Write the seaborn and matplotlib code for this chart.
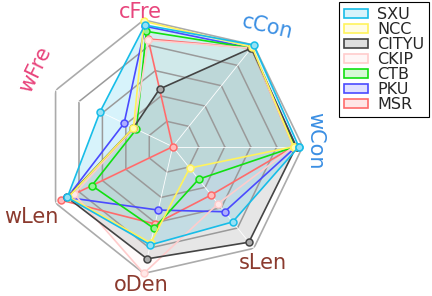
import numpy as np
import pandas as pd
import matplotlib
matplotlib.use("Agg")
import matplotlib.pyplot as plt
from matplotlib.patches import Patch
import seaborn as sns

# axes, counter-clockwise starting from the right
categories = ["wCon", "cCon", "cFre", "wFre", "wLen", "oDen", "sLen"]
label_colors = ["#3b8fe3", "#3b8fe3", "#e8457c", "#e8457c", "#8b3a2e", "#8b3a2e", "#8b3a2e"]

datasets = ["SXU", "NCC", "CITYU", "CKIP", "CTB", "PKU", "MSR"]
sxu = [0.97, 1.00, 0.96, 0.62, 0.90, 0.775, 0.74]
ncc = [0.93, 0.98, 0.99, 0.335, 0.89, 0.76, 0.21]
cityu = [0.95, 0.97, 0.455, 0.335, 0.90, 0.885, 0.94]
ckip = [0.93, 0.97, 0.84, 0.33, 0.84, 1.00, 0.56]
ctb = [0.94, 0.97, 0.91, 0.31, 0.69, 0.645, 0.32]
pku = [0.95, 0.97, 0.95, 0.415, 0.90, 0.50, 0.64]
msr = [0.93, 0.97, 0.85, 0.00, 0.95, 0.61, 0.475]
values = [sxu, ncc, cityu, ckip, ctb, pku, msr]

colors = ["#17bde8", "#fff35c", "#444444", "#ffcccc", "#11e011", "#4a4aff", "#ff6b6b"]
fill_alpha = [0.17, 0.05, 0.13, 0.08, 0.02, 0.02, 0.02]


def main():
    sns.set_style("white")
    plt.rcParams["font.family"] = ["DejaVu Sans"]

    fig = plt.figure(figsize=(4.32, 2.96), dpi=100)
    ax = fig.add_axes([0.0988, 0.0652, 0.6019, 0.8784], projection="polar")

    n = len(categories)
    angles = np.linspace(0, 2 * np.pi, n, endpoint=False)
    closed = np.append(angles, angles[0])

    # heptagon grid
    for r in [0.2, 0.4, 0.6, 0.8]:
        ax.plot(closed, [r] * (n + 1), color="#9a9a9a", lw=1.1, zorder=2)
    ax.plot(closed, [1.0] * (n + 1), color="#ababab", lw=1.2, zorder=2)
    for a in angles:
        ax.plot([a, a], [0, 1], color="white", lw=0.6, zorder=2)

    # series, drawn last-to-first so SXU ends on top
    for name, vals, c, fa in reversed(list(zip(datasets, values, colors, fill_alpha))):
        df = pd.DataFrame({"theta": closed, "r": vals + vals[:1]})
        ax.fill(df["theta"], df["r"], facecolor=c, alpha=fa, lw=0, zorder=1)
        face = tuple(0.45 * np.array(matplotlib.colors.to_rgb(c)) + 0.55)
        sns.lineplot(data=df, x="theta", y="r", ax=ax, sort=False, estimator=None,
                     color=c, lw=1.2, marker="o", markersize=5,
                     markerfacecolor=face, markeredgecolor=c, markeredgewidth=1.1,
                     zorder=3, clip_on=False)

    # axis labels
    label_pos = [(2.3, 1.095, -90), (51.5, 1.177, -13), (103.6, 1.066, 0),
                 (150.6, 1.216, 64), (206.4, 1.217, 0), (257.1, 1.095, 0),
                 (307.8, 1.133, 0)]
    for cat, col, (deg, r, rot) in zip(categories, label_colors, label_pos):
        ax.text(np.deg2rad(deg), r, cat, color=col, fontsize=15, rotation=rot,
                ha="center", va="center", rotation_mode="anchor")

    ax.set_ylim(0, 1)
    ax.set_xticks([])
    ax.set_yticks([])
    ax.set_xlabel("")
    ax.set_ylabel("")
    ax.grid(False)
    ax.spines["polar"].set_visible(False)
    ax.set_facecolor("none")

    handles = [Patch(facecolor=matplotlib.colors.to_rgba(c, 0.17), edgecolor=c, lw=1.2)
               for c in colors]
    leg = fig.legend(handles, datasets, loc="upper right", bbox_to_anchor=(0.997, 0.997),
                     fontsize=11.5, fancybox=False, edgecolor="black", framealpha=1,
                     handlelength=1.5, handleheight=0.5, handletextpad=0.6,
                     labelspacing=0.0, borderpad=0.3, borderaxespad=0.1)
    leg.get_frame().set_linewidth(0.8)

    fig.savefig("out.png", dpi=100)


if __name__ == "__main__":
    main()
